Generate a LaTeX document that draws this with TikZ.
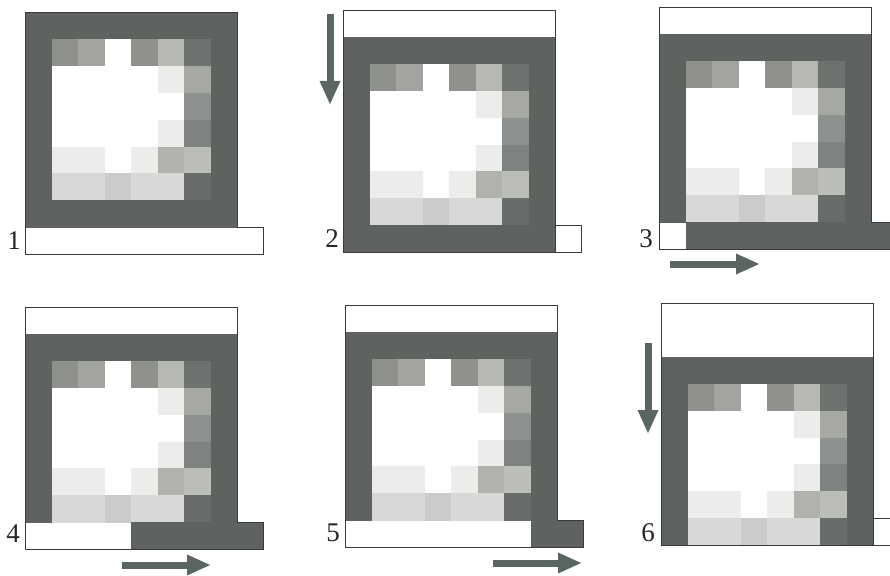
\documentclass[tikz,border=0pt]{standalone}
\usepackage{fontspec}
\setmainfont{Liberation Serif}
\usetikzlibrary{arrows.meta}
\definecolor{dk}{HTML}{5F635F}
\definecolor{cA}{HTML}{8E908C}
\definecolor{cB}{HTML}{A2A49F}
\definecolor{cC}{HTML}{B6B8B4}
\definecolor{cD}{HTML}{6F736F}
\definecolor{cE}{HTML}{ECECEA}
\definecolor{cF}{HTML}{A6A8A4}
\definecolor{cG}{HTML}{8E928E}
\definecolor{cH}{HTML}{7F837F}
\definecolor{cI}{HTML}{B0B2AE}
\definecolor{cJ}{HTML}{BBBDB9}
\definecolor{cK}{HTML}{D8D8D6}
\definecolor{cL}{HTML}{CBCBC9}
\definecolor{cM}{HTML}{696D69}
\definecolor{arrcol}{HTML}{5A6661}
\definecolor{outcol}{HTML}{3A3A3A}
\expandafter\def\csname ImgRow0\endcsname{dk,dk,dk,dk,dk,dk,dk,dk}
\expandafter\def\csname ImgRow1\endcsname{dk,cA,cB,white,cA,cC,cD,dk}
\expandafter\def\csname ImgRow2\endcsname{dk,white,white,white,white,cE,cF,dk}
\expandafter\def\csname ImgRow3\endcsname{dk,white,white,white,white,white,cG,dk}
\expandafter\def\csname ImgRow4\endcsname{dk,white,white,white,white,cE,cH,dk}
\expandafter\def\csname ImgRow5\endcsname{dk,cE,cE,white,cE,cI,cJ,dk}
\expandafter\def\csname ImgRow6\endcsname{dk,cK,cK,cL,cK,cK,cM,dk}
\expandafter\def\csname ImgRow7\endcsname{dk,dk,dk,dk,dk,dk,dk,dk}
% #1 ox, #2 oy, #3 first frame row, #4 last image row
\newcommand\imgrows[4]{%
  \foreach \rr in {0,...,#4}{%
    \edef\currow{\csname ImgRow\rr\endcsname}%
    \foreach \cc [count=\ii from 0] in \currow {%
      \fill[\cc] ({#1+\ii*26.5},{#2+(\rr+#3)*26.9}) rectangle ++(26.8,27.2);}}}
\tikzset{
  outl/.style={draw=outcol, line width=0.9pt, line join=miter},
  arr/.style={draw=arrcol, line width=7pt, -{Triangle[width=19pt,length=24pt]}},
  lbl/.style={font=\fontsize{27}{27}\selectfont, text=black!85, inner sep=0pt}
}
\begin{document}
\begin{tikzpicture}[x=1pt,y=-1pt]
\useasboundingbox (0,0) rectangle (890,575);
\fill[white] (0,0) rectangle (890,575);
\clip (0,0) rectangle (890,575);
% Panel 1
\imgrows{25}{12}{0}{7}
\draw[outl] (25,12) -- (237,12) -- (237,227.2) -- (263.5,227.2) -- (263.5,254.1) -- (25,254.1) -- cycle;
% Panel 2
\imgrows{343}{10}{1}{7}
\draw[outl] (343,10) rectangle (555,252.1);
\draw[outl] (555,225.2) rectangle (581.5,252.1);
% Panel 3
\imgrows{659}{7}{1}{6}
\fill[dk] (685.5,222.2) rectangle (897.5,249.1);
\draw[outl] (659,7) -- (871,7) -- (871,222.2) -- (897.5,222.2) -- (897.5,249.1) -- (659,249.1) -- cycle;
% Panel 4
\imgrows{25}{307}{1}{6}
\fill[dk] (131,522.2) rectangle (263.5,549.1);
\draw[outl] (25,307) -- (237,307) -- (237,522.2) -- (263.5,522.2) -- (263.5,549.1) -- (25,549.1) -- cycle;
% Panel 5
\imgrows{345}{305}{1}{6}
\fill[dk] (530.5,520.2) rectangle (583.5,547.1);
\draw[outl] (345,305) -- (557,305) -- (557,520.2) -- (583.5,520.2) -- (583.5,547.1) -- (345,547.1) -- cycle;
% Panel 6
\imgrows{661}{303}{2}{6}
\draw[outl] (661,303) rectangle (873,545.1);
\draw[outl] (873,518.2) rectangle (899.5,545.1);
% Arrows
\coordinate (a2s) at (330,14);  \coordinate (a2e) at (330,105);
\coordinate (a3s) at (670,264); \coordinate (a3e) at (760,264);
\coordinate (a4s) at (122,565); \coordinate (a4e) at (211,565);
\coordinate (a5s) at (493,563); \coordinate (a5e) at (582,563);
\coordinate (a6s) at (648,343); \coordinate (a6e) at (648,434);
\draw[arr] (a2s) -- (a2e);
\draw[arr] (a3s) -- (a3e);
\draw[arr] (a4s) -- (a4e);
\draw[arr] (a5s) -- (a5e);
\draw[arr] (a6s) -- (a6e);
% Labels
\node[lbl] (l1) at (14,241) {1};
\node[lbl] (l2) at (332,239) {2};
\node[lbl] (l3) at (646,239) {3};
\node[lbl] (l4) at (13,534) {4};
\node[lbl] (l5) at (333,533) {5};
\node[lbl] (l6) at (648,533) {6};
\end{tikzpicture}
\end{document}
